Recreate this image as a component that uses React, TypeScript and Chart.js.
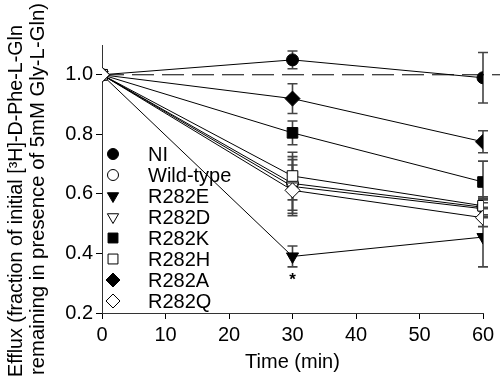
import React, { useEffect, useRef } from "react";
import { Chart, registerables } from "chart.js";
import { drawPoint } from "chart.js/helpers";

Chart.register(...registerables);

const times = [0, 30, 60];
const seriesNames = ["NI", "Wild-type", "R282E", "R282D", "R282K", "R282H", "R282A", "R282Q"];
const NI = [1.0, 1.05, 0.99];
const NIErr = [0, 0.03, 0.085];
const wildType = [1.0, 0.635, 0.555];
const wildTypeErr = [0, 0.09, 0.03];
const R282E = [1.0, 0.39, 0.455];
const R282EErr = [0, 0.035, 0.1];
const R282D = [1.0, 0.625, 0.55];
const R282DErr = [0, 0.09, 0.03];
const R282K = [1.0, 0.805, 0.64];
const R282KErr = [0, 0.04, 0.07];
const R282H = [1.0, 0.66, 0.56];
const R282HErr = [0, 0.08, 0.03];
const R282A = [1.0, 0.92, 0.775];
const R282AErr = [0, 0.05, 0.037];
const R282Q = [1.0, 0.612, 0.52];
const R282QErr = [0, 0.085, 0.03];
const yTickValues = [0.2, 0.4, 0.6, 0.8, 1.0];
const referenceLevel = 1.0;
const asteriskAt = { x: 30, series: 2 };
const yTitleLines = ["Efflux (fraction of initial [\u00B3H]-D-Phe-L-Gln", "remaining in presence of 5mM Gly-L-Gln)"];
const xTitle = "Time (min)";

const allValues = [NI, wildType, R282E, R282D, R282K, R282H, R282A, R282Q];
const allErrs = [NIErr, wildTypeErr, R282EErr, R282DErr, R282KErr, R282HErr, R282AErr, R282QErr];

const styles = [
  { pointStyle: "circle", rotation: 0, radius: 6, fill: "#000" },
  { pointStyle: "circle", rotation: 0, radius: 6, fill: "#fff" },
  { pointStyle: "triangle", rotation: 180, radius: 7, fill: "#000" },
  { pointStyle: "triangle", rotation: 180, radius: 7, fill: "#fff" },
  { pointStyle: "rect", rotation: 0, radius: 7.5, fill: "#000" },
  { pointStyle: "rect", rotation: 0, radius: 7.5, fill: "#fff" },
  { pointStyle: "rectRot", rotation: 0, radius: 7.5, fill: "#000" },
  { pointStyle: "rectRot", rotation: 0, radius: 7.5, fill: "#fff" },
];

const FONT = "'Liberation Sans', Arial, sans-serif";
const FS = 20;

const errorBarPlugin = {
  id: "errorBars",
  beforeDatasetsDraw(chart: any) {
    const ctx = chart.ctx;
    const xs = chart.scales.x;
    const ys = chart.scales.y;
    ctx.save();
    ctx.strokeStyle = "#444";
    ctx.lineWidth = 1.6;
    allValues.forEach((vals, si) => {
      vals.forEach((v, i) => {
        const e = allErrs[si][i];
        if (!e) return;
        const x = xs.getPixelForValue(times[i]);
        const y1 = ys.getPixelForValue(v + e);
        const y2 = ys.getPixelForValue(v - e);
        ctx.beginPath();
        ctx.moveTo(x, y1);
        ctx.lineTo(x, y2);
        ctx.moveTo(x - 5, y1);
        ctx.lineTo(x + 5, y1);
        ctx.moveTo(x - 5, y2);
        ctx.lineTo(x + 5, y2);
        ctx.stroke();
      });
    });
    const yr = ys.getPixelForValue(referenceLevel);
    ctx.strokeStyle = "#000";
    ctx.lineWidth = 1;
    ctx.setLineDash([22, 8]);
    ctx.beginPath();
    ctx.moveTo(chart.chartArea.left, yr);
    ctx.lineTo(chart.width, yr);
    ctx.stroke();
    ctx.restore();
  },
  afterDraw(chart: any) {
    const ctx = chart.ctx;
    const xs = chart.scales.x;
    const ys = chart.scales.y;
    ctx.save();
    const idx = times.indexOf(asteriskAt.x);
    const v = allValues[asteriskAt.series][idx] - allErrs[asteriskAt.series][idx];
    ctx.fillStyle = "#000";
    ctx.font = `bold 17px ${FONT}`;
    ctx.textAlign = "center";
    ctx.textBaseline = "middle";
    ctx.fillText("*", xs.getPixelForValue(asteriskAt.x), ys.getPixelForValue(v) + 13);
    ctx.font = `${FS}px ${FONT}`;
    ctx.textAlign = "left";
    seriesNames.forEach((name, i) => {
      const y = 154 + i * 21;
      const s = styles[i];
      ctx.fillStyle = s.fill;
      ctx.strokeStyle = "#000";
      ctx.lineWidth = 1;
      drawPoint(ctx, { pointStyle: s.pointStyle, rotation: s.rotation, radius: s.radius - 0.5, borderWidth: 1 } as any, 113, y);
      ctx.fillStyle = "#000";
      ctx.fillText(name, 148, y + 1);
    });
    ctx.textAlign = "left";
    const starts = [377, 375];
    const sizes = [19.7, 20.3];
    const xsPos = [17, 38];
    yTitleLines.forEach((line, i) => {
      ctx.save();
      ctx.font = `${sizes[i]}px ${FONT}`;
      ctx.translate(xsPos[i], starts[i]);
      ctx.rotate(-Math.PI / 2);
      ctx.fillText(line, 0, 0);
      ctx.restore();
    });
    ctx.restore();
  },
};

export default function App() {
  const ref = useRef<HTMLCanvasElement>(null);
  useEffect(() => {
    if (!ref.current) return;
    const datasets = allValues.map((vals, i) => ({
      label: seriesNames[i],
      data: times.map((t, j) => ({ x: t, y: vals[j] })),
      borderColor: "#000",
      borderWidth: 1,
      backgroundColor: styles[i].fill,
      pointBackgroundColor: styles[i].fill,
      pointBorderColor: "#000",
      pointBorderWidth: 1,
      pointStyle: styles[i].pointStyle,
      pointRotation: styles[i].rotation,
      pointRadius: styles[i].radius,
      tension: 0,
      fill: false,
      order: allValues.length - i,
    }));
    const chart = new Chart(ref.current, {
      type: "line",
      data: { datasets },
      plugins: [errorBarPlugin],
      options: {
        animation: false,
        responsive: false,
        layout: { padding: { top: 45, right: 17, left: 0, bottom: 0 } },
        plugins: { legend: { display: false }, tooltip: { enabled: false } },
        scales: {
          x: {
            type: "linear",
            min: 0,
            max: 60,
            afterFit: (s: any) => { s.height = 67; },
            ticks: { stepSize: 10, color: "#000", font: { family: FONT, size: FS }, padding: 4, maxRotation: 0 },
            grid: { drawOnChartArea: false, tickLength: 6, color: "#000" },
            border: { color: "#333", width: 1 },
            title: { display: true, text: xTitle, color: "#000", font: { family: FONT, size: FS }, padding: { top: 0, bottom: 6 } },
          },
          y: {
            type: "linear",
            min: 0.2,
            max: 1.1,
            afterFit: (s: any) => { s.width = 102; },
            afterBuildTicks: (s: any) => { s.ticks = yTickValues.map((v) => ({ value: v })); },
            ticks: { color: "#000", font: { family: FONT, size: FS }, padding: 3, callback: (v: any) => Number(v).toFixed(1) },
            grid: { drawOnChartArea: false, tickLength: 6, color: "#000" },
            border: { color: "#333", width: 1 },
          },
        },
      },
    });
    return () => chart.destroy();
  }, []);
  return (
    <div style={{ position: "absolute", left: 0, top: 0, width: 500, height: 380, background: "#fff" }}>
      <canvas ref={ref} width={500} height={380} />
    </div>
  );
}
